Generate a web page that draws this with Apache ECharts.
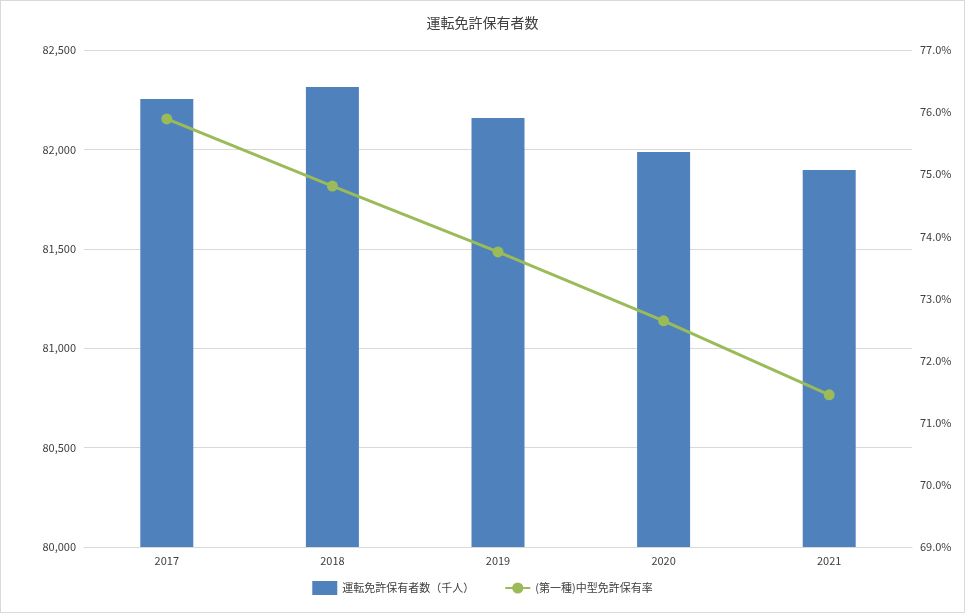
<!DOCTYPE html>
<html><head><meta charset="utf-8">
<script src="https://cdn.jsdelivr.net/npm/echarts@6/dist/echarts.min.js"></script>
<style>html,body{margin:0;padding:0;background:#fff}#c{width:963px;height:611px;border:1px solid #d9d9d9}</style>
</head><body><div id="c"></div>
<script>
var years = ['2017', '2018', '2019', '2020', '2021'];
var holders = [82254, 82314, 82158, 81987, 81896];
var rate = [75.89, 74.81, 73.75, 72.64, 71.45];

var chart = echarts.init(document.getElementById('c'));
var font = "'Noto Sans CJK JP', sans-serif";
chart.setOption({
  textStyle: { fontFamily: font },
  title: {
    text: '運転免許保有者数', left: 'center', top: 10,
    textStyle: { fontSize: 14, fontWeight: 'normal', color: '#404040', fontFamily: font }
  },
  legend: {
    bottom: 12, left: 'center', itemGap: 30,
    textStyle: { fontSize: 11, color: '#404040' },
    data: [
      { name: '運転免許保有者数（千人）', icon: 'rect', itemWidth: 24, itemHeight: 7 },
      { name: '(第一種)中型免許保有率' }
    ]
  },
  grid: { left: 83, right: 52, top: 49, bottom: 65 },
  xAxis: {
    type: 'category', data: years,
    axisLine: { lineStyle: { color: '#d9d9d9' } },
    axisTick: { show: false },
    axisLabel: { color: '#404040', fontSize: 11 }
  },
  yAxis: [
    {
      type: 'value', min: 80000, max: 82500, interval: 500,
      axisLabel: { color: '#404040', fontSize: 11, formatter: function (v) { return v.toLocaleString('en-US'); } },
      splitLine: { lineStyle: { color: '#d9d9d9' } }
    },
    {
      type: 'value', min: 69, max: 77, interval: 1,
      axisLabel: { color: '#404040', fontSize: 11, formatter: function (v) { return v.toFixed(1) + '%'; } },
      splitLine: { show: false }
    }
  ],
  series: [
    {
      name: '運転免許保有者数（千人）', type: 'bar', data: holders,
      barWidth: '32%', itemStyle: { color: '#4f81bd' }
    },
    {
      name: '(第一種)中型免許保有率', type: 'line', yAxisIndex: 1, data: rate,
      symbol: 'circle', symbolSize: 11,
      lineStyle: { color: '#9bbb59', width: 3 },
      itemStyle: { color: '#9bbb59' }
    }
  ]
});
</script></body></html>
